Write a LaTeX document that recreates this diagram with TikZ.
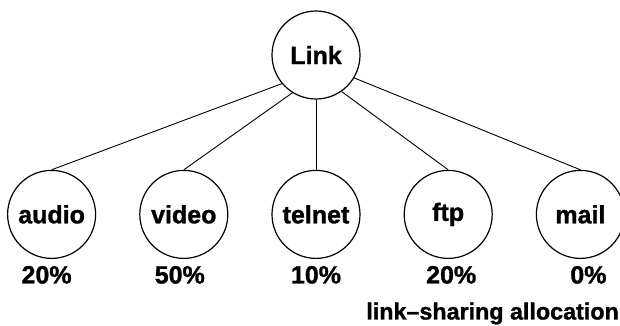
\documentclass[tikz,border=0pt]{standalone}
\usepackage{fontspec}
\setmainfont[BoldFeatures={FakeBold=1.2}]{Liberation Sans}
\usetikzlibrary{matrix}
\usetikzlibrary{positioning}

\begin{document}
\begin{tikzpicture}[font=\fontsize{25}{29}\selectfont\bfseries]
\tikzstyle{class} = [circle,draw,line width=1.2pt,minimum size=88pt,inner sep=0pt]
\tikzstyle{share} = [line width=0.9pt]
\useasboundingbox (0,0) rectangle (620pt,326pt);
\node[class] (link) at (316pt,271pt) {Link};
\matrix[matrix of nodes,column sep=43pt,row sep=7pt,inner sep=0pt,
below=70pt of link,
cells={nodes={anchor=center,inner sep=0pt}},
row 1/.style={nodes={class}},
row 2 column 1/.style={nodes={xshift=-5pt}},
row 2 column 2/.style={nodes={xshift=-4pt}},
row 2 column 4/.style={nodes={xshift=3pt}},
row 2 column 5/.style={nodes={xshift=8pt}}] (m) {
audio & video & telnet & ftp & mail \\
20\% & 50\% & 10\% & 20\% & 0\% \\
};
\node[anchor=base east,inner sep=0pt,font=\fontsize{23.3}{27}\selectfont\bfseries]
  (alloc) at (619pt,6.5pt) {link--sharing allocation};
\draw[share] (link.220) -- (m-1-1.north);
\draw[share] (link.238) -- (m-1-2.north);
\draw[share] (link.south) -- (m-1-3.north);
\draw[share] (link.305) -- (m-1-4.north);
\draw[share] (link.329) -- (m-1-5.north);
\end{tikzpicture}
\end{document}
